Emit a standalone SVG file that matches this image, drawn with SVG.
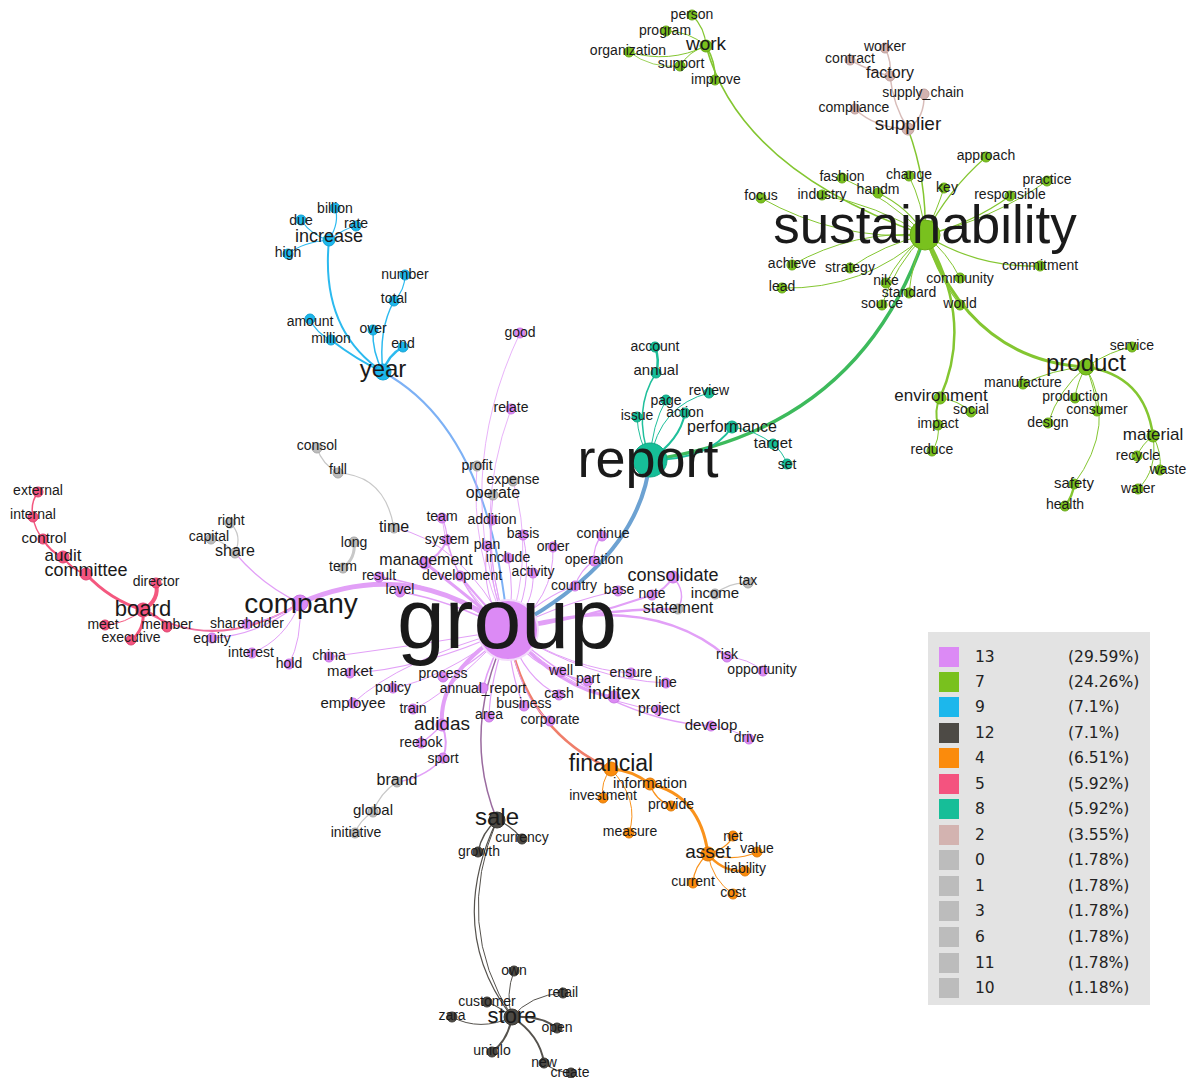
<svg xmlns="http://www.w3.org/2000/svg" width="1188" height="1078" viewBox="0 0 1188 1078">
<style>
text{font-family:"Liberation Sans",Arial,sans-serif;font-size:14px;fill:#1a1a1a;text-anchor:middle;dominant-baseline:central}
#edges path{fill:none;stroke-linecap:round}
.e13{stroke:#e2a0f7}
.e7{stroke:#84c631}
.e9{stroke:#2cbaef}
.e12{stroke:#55524d}
.e4{stroke:#f9921c}
.e5{stroke:#f4587f}
.e8{stroke:#1fbf9b}
.e2{stroke:#d8bcb9}
.eg{stroke:#c8c8c8}
.c13 circle{fill:#dc8af5;stroke:#c978e4}
.c7 circle{fill:#79c11e;stroke:#69aa16}
.c9 circle{fill:#1cb7ec;stroke:#15a2d3}
.c12 circle{fill:#4d4a45;stroke:#3b3934}
.c4 circle{fill:#fb8b0c;stroke:#e07b08}
.c5 circle{fill:#f4537f;stroke:#de426d}
.c8 circle{fill:#16be98;stroke:#10a884}
.c2 circle{fill:#d3b3b0;stroke:#c09f9c}
.cg circle{fill:#bcbcbc;stroke:#a8a8a8}
.lg text{font-family:"DejaVu Sans",Verdana,sans-serif;font-size:15.5px;text-anchor:start;fill:#222}
</style>

<!-- connectors -->
<g id="edges">
<!-- cross-cluster links -->
<path d="M925,235 Q860,430 650,460" stroke="#3dba5c" stroke-width="3.5"/>
<path d="M508,630 Q640,560 650,460" stroke="#6da2d2" stroke-width="4"/>
<path d="M508,630 Q490,430 383,372" stroke="#7db1f5" stroke-width="2"/>
<path d="M508,630 Q525,730 611,769" stroke="#ef7e6a" stroke-width="2.5"/>
<path d="M508,630 Q460,730 497,820" stroke="#9a6b9f" stroke-width="1.5"/>
<path d="M143,610 Q215,655 300,603" stroke="#ee6fa0" stroke-width="2"/>

<!-- green cluster -->
<g class="e7">
<path d="M706,46 Q705,28 692,15" stroke-width="1.2"/>
<path d="M706,46 Q689,31 666,31" stroke-width="1"/>
<path d="M706,46 Q669,64 629,52" stroke-width="1"/>
<path d="M629,52 Q652,69 680,66" stroke-width="0.8"/>
<path d="M706,46 Q689,51 680,66" stroke-width="1"/>
<path d="M706,46 Q716,62 715,80" stroke-width="1.5"/>
<path d="M706,46 Q740,170 925,235" stroke-width="1.6"/>
<path d="M908,129 Q927,180 925,235" stroke-width="1.5"/>
<path d="M925,235 Q948,190 986,157" stroke-width="1.2"/>
<path d="M925,235 Q923,204 909,176" stroke-width="1"/>
<path d="M925,235 Q937,210 944,188" stroke-width="1"/>
<path d="M925,235 Q991,220 1047,181" stroke-width="1"/>
<path d="M925,235 Q971,224 1010,196" stroke-width="1.2"/>
<path d="M925,235 Q889,198 842,178" stroke-width="1"/>
<path d="M925,235 Q908,207 878,193" stroke-width="1.2"/>
<path d="M925,235 Q877,205 822,195" stroke-width="1"/>
<path d="M925,235 Q837,241 761,198" stroke-width="1"/>
<path d="M925,235 Q854,230 792,265" stroke-width="1"/>
<path d="M925,235 Q884,244 850,268" stroke-width="1"/>
<path d="M925,235 Q864,290 782,288" stroke-width="1"/>
<path d="M925,235 Q900,255 886,283" stroke-width="1"/>
<path d="M925,235 Q912,262 909,293" stroke-width="1"/>
<path d="M925,235 Q895,265 882,305" stroke-width="1"/>
<path d="M925,235 Q947,252 960,278" stroke-width="1"/>
<path d="M925,235 Q937,275 960,305" stroke-width="1.2"/>
<path d="M925,235 Q978,268 1040,266" stroke-width="1.2"/>
<path d="M925,235 Q970,360 1086,367" stroke-width="3"/>
<path d="M925,235 Q975,320 940,398" stroke-width="2.5"/>
<path d="M1086,367 Q1112,350 1132,347" stroke-width="1"/>
<path d="M1086,367 Q1053,369 1023,384" stroke-width="1"/>
<path d="M1086,367 Q1077,382 1075,398" stroke-width="1"/>
<path d="M1086,367 Q1095,388 1097,411" stroke-width="1"/>
<path d="M1086,367 Q1059,389 1048,423" stroke-width="1"/>
<path d="M1086,367 Q1118,425 1074,484" stroke-width="1"/>
<path d="M1086,367 Q1145,375 1153,436" stroke-width="2.5"/>
<path d="M1153,436 Q1142,444 1137,456" stroke-width="1"/>
<path d="M1153,436 Q1162,452 1160,470" stroke-width="1"/>
<path d="M1153,436 Q1158,470 1138,489" stroke-width="1"/>
<path d="M1074,484 Q1073,496 1065,506" stroke-width="2.5"/>
<path d="M940,398 Q958,400 971,412" stroke-width="1.2"/>
<path d="M940,398 Q934,410 938,425" stroke-width="2"/>
<path d="M938,425 Q940,440 932,451" stroke-width="1"/>
</g>

<!-- supplier cluster -->
<g class="e2" stroke-width="1.5">
<path d="M908,129 Q893,105 890,76"/>
<path d="M890,76 Q892,62 885,48"/>
<path d="M890,76 Q872,72 850,60"/>
<path d="M908,129 Q925,118 924,94"/>
<path d="M908,129 Q875,128 855,109"/>
</g>

<!-- year cluster -->
<g class="e9">
<path d="M383,372 Q320,330 329,240" stroke-width="2"/>
<path d="M329,240 Q340,222 335,208" stroke-width="1.2"/>
<path d="M329,240 Q312,236 301,220" stroke-width="1.2"/>
<path d="M329,240 Q345,228 356,226" stroke-width="1.2"/>
<path d="M329,240 Q303,242 288,254" stroke-width="1.2"/>
<path d="M383,372 Q357,360 331,340" stroke-width="2"/>
<path d="M331,340 Q316,333 310,319" stroke-width="1.2"/>
<path d="M383,372 Q372,352 373,330" stroke-width="1.5"/>
<path d="M383,372 Q378,330 394,301" stroke-width="1.5"/>
<path d="M394,301 Q405,290 405,275" stroke-width="1.2"/>
<path d="M383,372 Q388,355 403,347" stroke-width="2.5"/>
</g>

<!-- report cluster -->
<g class="e8">
<path d="M650,460 Q632,410 656,373" stroke-width="1.5"/>
<path d="M656,373 Q660,360 655,347" stroke-width="2.5"/>
<path d="M650,460 Q638,440 637,417" stroke-width="1"/>
<path d="M650,460 Q652,425 666,400" stroke-width="1"/>
<path d="M650,460 Q680,440 685,413" stroke-width="2"/>
<path d="M650,460 Q660,405 709,393" stroke-width="1"/>
<path d="M650,460 Q710,460 732,427" stroke-width="2"/>
<path d="M732,427 Q755,430 773,444" stroke-width="1"/>
<path d="M773,444 Q783,452 787,464" stroke-width="1"/>
</g>

<!-- board cluster -->
<g class="e5">
<path d="M143,610 Q160,600 156,583" stroke-width="4"/>
<path d="M143,610 Q110,600 86,574" stroke-width="3"/>
<path d="M86,574 Q72,570 63,557" stroke-width="2"/>
<path d="M63,557 Q50,552 43,539" stroke-width="2"/>
<path d="M43,539 Q35,530 33,517" stroke-width="1.5"/>
<path d="M33,517 Q30,503 38,492" stroke-width="1.5"/>
<path d="M143,610 Q125,624 105,625" stroke-width="1"/>
<path d="M143,610 Q158,614 167,627" stroke-width="1.5"/>
<path d="M143,610 Q145,630 131,640" stroke-width="3"/>
</g>

<!-- grey links -->
<g class="eg" stroke-width="1.2">
<path d="M235,553 Q243,535 230,523"/>
<path d="M235,553 Q222,540 211,539"/>
<path d="M354,542 Q356,558 343,568" stroke-width="3"/>
<path d="M317,448 Q322,464 338,473"/>
<path d="M338,473 Q385,475 394,528"/>
<path d="M715,594 Q730,582 748,583"/>
<path d="M397,782 Q380,793 373,812"/>
<path d="M373,812 Q360,820 355,833"/>
</g>

<!-- group cluster -->
<g class="e13">
<path d="M508,630 Q410,555 300,603" stroke-width="5"/>
<path d="M300,603 Q275,620 247,624" stroke-width="1.5"/>
<path d="M300,603 Q260,635 212,638" stroke-width="1.2"/>
<path d="M300,603 Q285,640 252,653" stroke-width="1"/>
<path d="M300,603 Q302,640 289,664" stroke-width="1"/>
<path d="M300,603 Q262,585 235,553" stroke-width="1.2"/>
<path d="M394,528 Q460,540 508,630" stroke-width="1"/>
<path d="M443,758 Q425,778 397,782" stroke-width="1.5"/>
<path d="M442,725 Q449,742 443,758" stroke-width="2"/>
<path d="M442,725 Q430,737 421,743" stroke-width="1.2"/>
<path d="M508,630 Q438,672 442,725" stroke-width="4"/>
<path d="M508,630 Q450,480 520,333" stroke-width="0.8"/>
<path d="M508,630 Q470,520 511,409" stroke-width="0.8"/>
<path d="M508,630 Q470,550 477,466" stroke-width="0.8"/>
<path d="M508,630 Q485,565 493,495" stroke-width="1"/>
<path d="M508,630 Q535,555 513,481" stroke-width="0.8"/>
<path d="M508,630 Q485,580 492,520" stroke-width="1"/>
<path d="M508,630 Q450,585 442,518" stroke-width="0.8"/>
<path d="M442,518 Q447,528 447,540" stroke-width="1.2"/>
<path d="M508,630 Q462,600 447,540" stroke-width="1.2"/>
<path d="M447,540 Q440,556 425,563" stroke-width="2"/>
<path d="M508,630 Q480,600 487,546" stroke-width="1"/>
<path d="M508,630 Q535,590 523,535" stroke-width="1"/>
<path d="M508,630 Q515,590 508,558" stroke-width="1"/>
<path d="M508,630 Q535,605 533,573" stroke-width="1"/>
<path d="M508,630 Q555,600 553,547" stroke-width="1"/>
<path d="M508,630 Q460,590 425,563" stroke-width="3"/>
<path d="M508,630 Q480,600 460,576" stroke-width="2"/>
<path d="M508,630 Q440,585 379,577" stroke-width="1.5"/>
<path d="M508,630 Q450,600 400,592" stroke-width="1.5"/>
<path d="M508,630 Q545,595 575,586" stroke-width="1.2"/>
<path d="M575,586 Q580,570 594,561" stroke-width="1.2"/>
<path d="M594,561 Q593,545 602,536" stroke-width="1.2"/>
<path d="M508,630 Q570,600 618,591" stroke-width="1.2"/>
<path d="M508,630 Q580,620 652,595" stroke-width="2"/>
<path d="M508,630 Q600,608 678,609" stroke-width="2.5"/>
<path d="M673,577 Q687,592 678,609" stroke-width="1.5"/>
<path d="M673,577 Q665,590 652,595" stroke-width="2"/>
<path d="M508,630 Q650,590 727,657" stroke-width="2.5"/>
<path d="M727,657 Q748,658 763,671" stroke-width="1"/>
<path d="M508,630 Q530,665 561,672" stroke-width="1.2"/>
<path d="M508,630 Q545,675 588,681" stroke-width="1.2"/>
<path d="M508,630 Q575,670 631,673" stroke-width="1"/>
<path d="M508,630 Q590,680 666,683" stroke-width="1"/>
<path d="M508,630 Q560,690 614,697" stroke-width="3"/>
<path d="M508,630 Q575,700 658,710" stroke-width="1"/>
<path d="M508,630 Q610,720 711,726" stroke-width="1.5"/>
<path d="M711,726 Q732,728 749,739" stroke-width="1"/>
<path d="M508,630 Q525,680 559,695" stroke-width="1.2"/>
<path d="M508,630 Q510,675 524,706" stroke-width="1.2"/>
<path d="M508,630 Q520,700 550,721" stroke-width="1"/>
<path d="M508,630 Q490,680 489,717" stroke-width="1.2"/>
<path d="M508,630 Q490,660 483,688" stroke-width="1.5"/>
<path d="M508,630 Q470,668 443,677" stroke-width="1.2"/>
<path d="M508,630 Q440,680 393,688" stroke-width="1"/>
<path d="M508,630 Q420,645 329,657" stroke-width="1"/>
<path d="M508,630 Q420,670 350,673" stroke-width="1.2"/>
<path d="M508,630 Q400,660 353,703" stroke-width="1"/>
<path d="M508,630 Q440,700 413,709" stroke-width="1"/>
</g>

<!-- sale cluster -->
<g class="e12">
<path d="M497,820 Q512,826 522,839" stroke-width="1.2"/>
<path d="M497,820 Q482,832 478,852" stroke-width="1.5"/>
<path d="M497,820 Q445,930 512,1017" stroke-width="1.2"/>
<path d="M497,820 Q453,925 512,1017" stroke-width="1"/>
<path d="M512,1017 Q505,995 514,971" stroke-width="1"/>
<path d="M512,1017 Q530,995 563,993" stroke-width="1"/>
<path d="M512,1017 Q498,1006 487,1002" stroke-width="1.2"/>
<path d="M512,1017 Q480,1032 452,1017" stroke-width="1"/>
<path d="M512,1017 Q540,1015 557,1028" stroke-width="2"/>
<path d="M512,1017 Q508,1040 492,1052" stroke-width="2"/>
<path d="M512,1017 Q540,1035 544,1063" stroke-width="2"/>
<path d="M544,1063 Q555,1072 571,1073" stroke-width="1"/>
</g>

<!-- financial cluster -->
<g class="e4">
<path d="M611,769 Q632,770 650,784" stroke-width="3"/>
<path d="M650,784 Q700,795 708,854" stroke-width="3"/>
<path d="M611,769 Q600,782 603,798" stroke-width="1"/>
<path d="M611,769 Q640,800 629,833" stroke-width="1"/>
<path d="M650,784 Q655,800 671,806" stroke-width="1.2"/>
<path d="M708,854 Q728,848 733,836" stroke-width="1.2"/>
<path d="M708,854 Q735,862 757,852" stroke-width="1.2"/>
<path d="M708,854 Q722,872 745,871" stroke-width="2.5"/>
<path d="M708,854 Q694,866 693,883" stroke-width="1.2"/>
<path d="M708,854 Q712,880 733,894" stroke-width="1"/>
</g>
</g>

<!-- hubs first so small labels stay visible -->
<g id="n-group" class="c13"><circle cx="508" cy="630" r="30" style="stroke:#f3dcfb;stroke-width:2"/><text x="507" y="618" style="font-size:86px">group</text></g>
<g id="n-report" class="c8"><circle cx="650" cy="460" r="17"/><text x="648" y="458" style="font-size:54px">report</text></g>
<g id="n-sustainability" class="c7"><circle cx="925" cy="235" r="15"/><text x="925" y="224" style="font-size:53px">sustainability</text></g>

<!-- green -->
<g id="n-person" class="c7"><circle cx="692" cy="15" r="5"/><text x="692" y="14">person</text></g>
<g id="n-program" class="c7"><circle cx="666" cy="31" r="5"/><text x="665" y="30">program</text></g>
<g id="n-work" class="c7"><circle cx="706" cy="46" r="6"/><text x="706" y="43" style="font-size:19px">work</text></g>
<g id="n-organization" class="c7"><circle cx="629" cy="52" r="5"/><text x="628" y="50">organization</text></g>
<g id="n-support" class="c7"><circle cx="680" cy="66" r="5"/><text x="681" y="63">support</text></g>
<g id="n-improve" class="c7"><circle cx="715" cy="80" r="5"/><text x="716" y="79">improve</text></g>
<g id="n-approach" class="c7"><circle cx="986" cy="157" r="5"/><text x="986" y="155">approach</text></g>
<g id="n-fashion" class="c7"><circle cx="842" cy="178" r="5"/><text x="842" y="176">fashion</text></g>
<g id="n-change" class="c7"><circle cx="909" cy="176" r="5"/><text x="909" y="174">change</text></g>
<g id="n-practice" class="c7"><circle cx="1047" cy="181" r="5"/><text x="1047" y="179">practice</text></g>
<g id="n-focus" class="c7"><circle cx="761" cy="198" r="5"/><text x="761" y="195">focus</text></g>
<g id="n-industry" class="c7"><circle cx="822" cy="195" r="5"/><text x="822" y="194">industry</text></g>
<g id="n-handm" class="c7"><circle cx="878" cy="193" r="5"/><text x="878" y="189">handm</text></g>
<g id="n-key" class="c7"><circle cx="944" cy="188" r="5"/><text x="947" y="187">key</text></g>
<g id="n-responsible" class="c7"><circle cx="1010" cy="196" r="5"/><text x="1010" y="194">responsible</text></g>
<g id="n-achieve" class="c7"><circle cx="792" cy="265" r="5"/><text x="792" y="263">achieve</text></g>
<g id="n-strategy" class="c7"><circle cx="850" cy="268" r="5"/><text x="850" y="267">strategy</text></g>
<g id="n-commitment" class="c7"><circle cx="1040" cy="266" r="5"/><text x="1040" y="265">commitment</text></g>
<g id="n-lead" class="c7"><circle cx="782" cy="288" r="5"/><text x="782" y="286">lead</text></g>
<g id="n-nike" class="c7"><circle cx="886" cy="283" r="5"/><text x="886" y="280">nike</text></g>
<g id="n-community" class="c7"><circle cx="960" cy="278" r="5"/><text x="960" y="278">community</text></g>
<g id="n-standard" class="c7"><circle cx="909" cy="293" r="5"/><text x="909" y="292">standard</text></g>
<g id="n-source" class="c7"><circle cx="882" cy="305" r="5"/><text x="882" y="303">source</text></g>
<g id="n-world" class="c7"><circle cx="960" cy="305" r="5"/><text x="960" y="303">world</text></g>
<g id="n-service" class="c7"><circle cx="1132" cy="347" r="5"/><text x="1132" y="345">service</text></g>
<g id="n-product" class="c7"><circle cx="1086" cy="367" r="8"/><text x="1086" y="362" style="font-size:24px">product</text></g>
<g id="n-manufacture" class="c7"><circle cx="1023" cy="384" r="5"/><text x="1023" y="382">manufacture</text></g>
<g id="n-environment" class="c7"><circle cx="940" cy="398" r="6"/><text x="941" y="395" style="font-size:17px">environment</text></g>
<g id="n-production" class="c7"><circle cx="1075" cy="398" r="5"/><text x="1075" y="396">production</text></g>
<g id="n-social" class="c7"><circle cx="971" cy="412" r="5"/><text x="971" y="409">social</text></g>
<g id="n-consumer" class="c7"><circle cx="1097" cy="411" r="5"/><text x="1097" y="409">consumer</text></g>
<g id="n-impact" class="c7"><circle cx="938" cy="425" r="5"/><text x="938" y="423">impact</text></g>
<g id="n-design" class="c7"><circle cx="1048" cy="423" r="5"/><text x="1048" y="422">design</text></g>
<g id="n-material" class="c7"><circle cx="1153" cy="436" r="6"/><text x="1153" y="434" style="font-size:17px">material</text></g>
<g id="n-reduce" class="c7"><circle cx="932" cy="451" r="5"/><text x="932" y="449">reduce</text></g>
<g id="n-recycle" class="c7"><circle cx="1137" cy="456" r="5"/><text x="1138" y="455">recycle</text></g>
<g id="n-waste" class="c7"><circle cx="1160" cy="470" r="5"/><text x="1168" y="469">waste</text></g>
<g id="n-safety" class="c7"><circle cx="1074" cy="484" r="5"/><text x="1074" y="482" style="font-size:15px">safety</text></g>
<g id="n-water" class="c7"><circle cx="1138" cy="489" r="5"/><text x="1138" y="488">water</text></g>
<g id="n-health" class="c7"><circle cx="1065" cy="506" r="5"/><text x="1065" y="504">health</text></g>

<!-- supplier -->
<g id="n-worker" class="c2"><circle cx="885" cy="48" r="5"/><text x="885" y="46">worker</text></g>
<g id="n-contract" class="c2"><circle cx="850" cy="60" r="5"/><text x="850" y="58">contract</text></g>
<g id="n-factory" class="c2"><circle cx="890" cy="76" r="5"/><text x="890" y="72" style="font-size:16px">factory</text></g>
<g id="n-supply_chain" class="c2"><circle cx="924" cy="94" r="5"/><text x="923" y="92">supply_chain</text></g>
<g id="n-compliance" class="c2"><circle cx="855" cy="109" r="5"/><text x="854" y="107">compliance</text></g>
<g id="n-supplier" class="c2"><circle cx="908" cy="129" r="6"/><text x="908" y="123" style="font-size:19px">supplier</text></g>

<!-- year -->
<g id="n-billion" class="c9"><circle cx="335" cy="208" r="5"/><text x="335" y="208">billion</text></g>
<g id="n-due" class="c9"><circle cx="301" cy="220" r="5"/><text x="301" y="220">due</text></g>
<g id="n-rate" class="c9"><circle cx="356" cy="226" r="5"/><text x="356" y="223">rate</text></g>
<g id="n-increase" class="c9"><circle cx="329" cy="240" r="6"/><text x="329" y="236" style="font-size:18px">increase</text></g>
<g id="n-high" class="c9"><circle cx="288" cy="254" r="5"/><text x="288" y="252">high</text></g>
<g id="n-number" class="c9"><circle cx="405" cy="275" r="5"/><text x="405" y="274">number</text></g>
<g id="n-total" class="c9"><circle cx="394" cy="301" r="5"/><text x="394" y="298">total</text></g>
<g id="n-amount" class="c9"><circle cx="310" cy="319" r="5"/><text x="310" y="321">amount</text></g>
<g id="n-over" class="c9"><circle cx="373" cy="330" r="5"/><text x="373" y="328">over</text></g>
<g id="n-million" class="c9"><circle cx="331" cy="340" r="5"/><text x="331" y="338">million</text></g>
<g id="n-end" class="c9"><circle cx="403" cy="347" r="5"/><text x="403" y="343">end</text></g>
<g id="n-year" class="c9"><circle cx="383" cy="372" r="8"/><text x="383" y="368" style="font-size:24px">year</text></g>

<!-- report -->
<g id="n-account" class="c8"><circle cx="655" cy="347" r="5"/><text x="655" y="346">account</text></g>
<g id="n-annual" class="c8"><circle cx="656" cy="373" r="5"/><text x="656" y="369" style="font-size:15px">annual</text></g>
<g id="n-review" class="c8"><circle cx="709" cy="393" r="5"/><text x="709" y="390">review</text></g>
<g id="n-page" class="c8"><circle cx="666" cy="400" r="5"/><text x="666" y="400">page</text></g>
<g id="n-issue" class="c8"><circle cx="637" cy="417" r="5"/><text x="637" y="415">issue</text></g>
<g id="n-action" class="c8"><circle cx="685" cy="413" r="5"/><text x="685" y="412">action</text></g>
<g id="n-performance" class="c8"><circle cx="732" cy="427" r="6"/><text x="732" y="426" style="font-size:16px">performance</text></g>
<g id="n-target" class="c8"><circle cx="773" cy="444" r="5"/><text x="773" y="442" style="font-size:15px">target</text></g>
<g id="n-set" class="c8"><circle cx="787" cy="464" r="5"/><text x="787" y="464">set</text></g>

<!-- board -->
<g id="n-external" class="c5"><circle cx="38" cy="492" r="5"/><text x="38" y="490">external</text></g>
<g id="n-internal" class="c5"><circle cx="33" cy="517" r="5"/><text x="33" y="514">internal</text></g>
<g id="n-control" class="c5"><circle cx="43" cy="539" r="5"/><text x="44" y="537" style="font-size:15px">control</text></g>
<g id="n-audit" class="c5"><circle cx="63" cy="557" r="6"/><text x="63" y="555" style="font-size:17px">audit</text></g>
<g id="n-committee" class="c5"><circle cx="86" cy="574" r="6"/><text x="86" y="570" style="font-size:18px">committee</text></g>
<g id="n-director" class="c5"><circle cx="156" cy="583" r="5"/><text x="156" y="581">director</text></g>
<g id="n-board" class="c5"><circle cx="143" cy="610" r="7"/><text x="143" y="608" style="font-size:22px">board</text></g>
<g id="n-meet" class="c5"><circle cx="105" cy="625" r="5"/><text x="103" y="624">meet</text></g>
<g id="n-member" class="c5"><circle cx="167" cy="627" r="5"/><text x="167" y="624">member</text></g>
<g id="n-executive" class="c5"><circle cx="131" cy="640" r="5"/><text x="131" y="637">executive</text></g>

<!-- grey -->
<g id="n-consol" class="cg"><circle cx="317" cy="448" r="5"/><text x="317" y="445">consol</text></g>
<g id="n-full" class="cg"><circle cx="338" cy="473" r="5"/><text x="338" y="469">full</text></g>
<g id="n-profit" class="cg"><circle cx="477" cy="466" r="5"/><text x="477" y="465">profit</text></g>
<g id="n-expense" class="cg"><circle cx="513" cy="481" r="5"/><text x="513" y="479">expense</text></g>
<g id="n-operate" class="cg"><circle cx="493" cy="495" r="5"/><text x="493" y="492" style="font-size:16px">operate</text></g>
<g id="n-time" class="cg"><circle cx="394" cy="528" r="5"/><text x="394" y="526" style="font-size:16px">time</text></g>
<g id="n-long" class="cg"><circle cx="354" cy="542" r="5"/><text x="354" y="542">long</text></g>
<g id="n-term" class="cg"><circle cx="343" cy="568" r="5"/><text x="343" y="566">term</text></g>
<g id="n-right" class="cg"><circle cx="230" cy="523" r="5"/><text x="231" y="520">right</text></g>
<g id="n-capital" class="cg"><circle cx="211" cy="539" r="5"/><text x="209" y="536">capital</text></g>
<g id="n-share" class="cg"><circle cx="235" cy="553" r="5"/><text x="235" y="550" style="font-size:16px">share</text></g>
<g id="n-statement" class="cg"><circle cx="678" cy="609" r="5"/><text x="678" y="607" style="font-size:16px">statement</text></g>
<g id="n-income" class="cg"><circle cx="715" cy="594" r="5"/><text x="715" y="592" style="font-size:15px">income</text></g>
<g id="n-tax" class="cg"><circle cx="748" cy="583" r="5"/><text x="748" y="580">tax</text></g>
<g id="n-brand" class="cg"><circle cx="397" cy="782" r="5"/><text x="397" y="779" style="font-size:16px">brand</text></g>
<g id="n-global" class="cg"><circle cx="373" cy="812" r="5"/><text x="373" y="809" style="font-size:15px">global</text></g>
<g id="n-initiative" class="cg"><circle cx="355" cy="833" r="5"/><text x="356" y="832">initiative</text></g>

<!-- purple -->
<g id="n-company" class="c13"><circle cx="300" cy="603" r="8"/><text x="301" y="603" style="font-size:28px">company</text></g>
<g id="n-shareholder" class="c13"><circle cx="247" cy="624" r="5"/><text x="247" y="623">shareholder</text></g>
<g id="n-equity" class="c13"><circle cx="212" cy="638" r="5"/><text x="212" y="638">equity</text></g>
<g id="n-interest" class="c13"><circle cx="252" cy="653" r="5"/><text x="251" y="652">interest</text></g>
<g id="n-hold" class="c13"><circle cx="289" cy="664" r="5"/><text x="289" y="663">hold</text></g>
<g id="n-good" class="c13"><circle cx="520" cy="333" r="5"/><text x="520" y="332">good</text></g>
<g id="n-relate" class="c13"><circle cx="511" cy="409" r="5"/><text x="511" y="407">relate</text></g>
<g id="n-team" class="c13"><circle cx="442" cy="518" r="5"/><text x="442" y="516">team</text></g>
<g id="n-addition" class="c13"><circle cx="492" cy="520" r="5"/><text x="492" y="519">addition</text></g>
<g id="n-basis" class="c13"><circle cx="523" cy="535" r="5"/><text x="523" y="533">basis</text></g>
<g id="n-system" class="c13"><circle cx="447" cy="540" r="5"/><text x="447" y="539">system</text></g>
<g id="n-plan" class="c13"><circle cx="487" cy="546" r="5"/><text x="487" y="544">plan</text></g>
<g id="n-order" class="c13"><circle cx="553" cy="547" r="5"/><text x="553" y="546">order</text></g>
<g id="n-include" class="c13"><circle cx="508" cy="558" r="5"/><text x="508" y="557">include</text></g>
<g id="n-management" class="c13"><circle cx="425" cy="563" r="6"/><text x="426" y="559" style="font-size:16px">management</text></g>
<g id="n-result" class="c13"><circle cx="379" cy="577" r="5"/><text x="379" y="575">result</text></g>
<g id="n-activity" class="c13"><circle cx="533" cy="573" r="5"/><text x="533" y="571">activity</text></g>
<g id="n-development" class="c13"><circle cx="460" cy="576" r="5"/><text x="462" y="575">development</text></g>
<g id="n-level" class="c13"><circle cx="400" cy="592" r="5"/><text x="400" y="589">level</text></g>
<g id="n-country" class="c13"><circle cx="575" cy="586" r="5"/><text x="574" y="585">country</text></g>
<g id="n-continue" class="c13"><circle cx="602" cy="536" r="5"/><text x="603" y="533">continue</text></g>
<g id="n-operation" class="c13"><circle cx="594" cy="561" r="5"/><text x="594" y="559">operation</text></g>
<g id="n-base" class="c13"><circle cx="618" cy="591" r="5"/><text x="619" y="589">base</text></g>
<g id="n-consolidate" class="c13"><circle cx="673" cy="577" r="6"/><text x="673" y="575" style="font-size:18px">consolidate</text></g>
<g id="n-note" class="c13"><circle cx="652" cy="595" r="5"/><text x="652" y="593">note</text></g>
<g id="n-china" class="c13"><circle cx="329" cy="657" r="5"/><text x="329" y="655">china</text></g>
<g id="n-market" class="c13"><circle cx="350" cy="673" r="5"/><text x="350" y="670" style="font-size:15px">market</text></g>
<g id="n-risk" class="c13"><circle cx="727" cy="657" r="5"/><text x="727" y="654">risk</text></g>
<g id="n-opportunity" class="c13"><circle cx="763" cy="671" r="5"/><text x="762" y="669">opportunity</text></g>
<g id="n-process" class="c13"><circle cx="443" cy="677" r="5"/><text x="443" y="673">process</text></g>
<g id="n-well" class="c13"><circle cx="561" cy="672" r="5"/><text x="561" y="670">well</text></g>
<g id="n-part" class="c13"><circle cx="588" cy="681" r="5"/><text x="588" y="678">part</text></g>
<g id="n-ensure" class="c13"><circle cx="631" cy="673" r="5"/><text x="631" y="672">ensure</text></g>
<g id="n-line" class="c13"><circle cx="666" cy="683" r="5"/><text x="666" y="682">line</text></g>
<g id="n-policy" class="c13"><circle cx="393" cy="688" r="5"/><text x="393" y="687">policy</text></g>
<g id="n-annual_report" class="c13"><circle cx="483" cy="688" r="5"/><text x="483" y="688">annual_report</text></g>
<g id="n-cash" class="c13"><circle cx="559" cy="695" r="5"/><text x="559" y="693">cash</text></g>
<g id="n-inditex" class="c13"><circle cx="614" cy="697" r="6"/><text x="614" y="693" style="font-size:18px">inditex</text></g>
<g id="n-employee" class="c13"><circle cx="353" cy="703" r="5"/><text x="353" y="702" style="font-size:15px">employee</text></g>
<g id="n-business" class="c13"><circle cx="524" cy="706" r="5"/><text x="524" y="703">business</text></g>
<g id="n-train" class="c13"><circle cx="413" cy="709" r="5"/><text x="413" y="708">train</text></g>
<g id="n-project" class="c13"><circle cx="658" cy="710" r="5"/><text x="659" y="708">project</text></g>
<g id="n-area" class="c13"><circle cx="489" cy="717" r="5"/><text x="489" y="714">area</text></g>
<g id="n-corporate" class="c13"><circle cx="550" cy="721" r="5"/><text x="550" y="719">corporate</text></g>
<g id="n-adidas" class="c13"><circle cx="442" cy="725" r="6"/><text x="442" y="723" style="font-size:19px">adidas</text></g>
<g id="n-develop" class="c13"><circle cx="711" cy="726" r="5"/><text x="711" y="724" style="font-size:15px">develop</text></g>
<g id="n-reebok" class="c13"><circle cx="421" cy="743" r="5"/><text x="421" y="742">reebok</text></g>
<g id="n-drive" class="c13"><circle cx="749" cy="739" r="5"/><text x="749" y="737">drive</text></g>
<g id="n-sport" class="c13"><circle cx="443" cy="758" r="5"/><text x="443" y="758">sport</text></g>

<!-- financial -->
<g id="n-financial" class="c4"><circle cx="611" cy="769" r="7"/><text x="611" y="763" style="font-size:23px">financial</text></g>
<g id="n-information" class="c4"><circle cx="650" cy="784" r="6"/><text x="650" y="782" style="font-size:15px">information</text></g>
<g id="n-investment" class="c4"><circle cx="603" cy="798" r="5"/><text x="603" y="795">investment</text></g>
<g id="n-provide" class="c4"><circle cx="671" cy="806" r="5"/><text x="671" y="804">provide</text></g>
<g id="n-measure" class="c4"><circle cx="629" cy="833" r="5"/><text x="630" y="831">measure</text></g>
<g id="n-net" class="c4"><circle cx="733" cy="836" r="5"/><text x="733" y="836">net</text></g>
<g id="n-value" class="c4"><circle cx="757" cy="852" r="5"/><text x="757" y="848">value</text></g>
<g id="n-asset" class="c4"><circle cx="708" cy="854" r="7"/><text x="708" y="851" style="font-size:19px">asset</text></g>
<g id="n-liability" class="c4"><circle cx="745" cy="871" r="5"/><text x="745" y="868">liability</text></g>
<g id="n-current" class="c4"><circle cx="693" cy="883" r="5"/><text x="693" y="881">current</text></g>
<g id="n-cost" class="c4"><circle cx="733" cy="894" r="5"/><text x="733" y="892">cost</text></g>

<!-- sale -->
<g id="n-sale" class="c12"><circle cx="497" cy="820" r="8"/><text x="497" y="816" style="font-size:24px">sale</text></g>
<g id="n-currency" class="c12"><circle cx="522" cy="839" r="5"/><text x="522" y="837">currency</text></g>
<g id="n-growth" class="c12"><circle cx="478" cy="852" r="5"/><text x="479" y="851">growth</text></g>
<g id="n-own" class="c12"><circle cx="514" cy="971" r="5"/><text x="514" y="970">own</text></g>
<g id="n-retail" class="c12"><circle cx="563" cy="993" r="5"/><text x="563" y="992">retail</text></g>
<g id="n-customer" class="c12"><circle cx="487" cy="1002" r="5"/><text x="487" y="1001">customer</text></g>
<g id="n-store" class="c12"><circle cx="512" cy="1017" r="8"/><text x="512" y="1015" style="font-size:22px">store</text></g>
<g id="n-zara" class="c12"><circle cx="452" cy="1017" r="5"/><text x="452" y="1015">zara</text></g>
<g id="n-open" class="c12"><circle cx="557" cy="1028" r="5"/><text x="557" y="1027">open</text></g>
<g id="n-uniqlo" class="c12"><circle cx="492" cy="1052" r="5"/><text x="492" y="1050">uniqlo</text></g>
<g id="n-new" class="c12"><circle cx="544" cy="1063" r="5"/><text x="544" y="1062">new</text></g>
<g id="n-create" class="c12"><circle cx="571" cy="1073" r="5"/><text x="570" y="1072">create</text></g>

<!-- legend -->
<g id="legend" class="lg">
<rect x="928" y="632" width="222" height="373" fill="#e3e3e3"/>
<rect x="939" y="647" width="20" height="20" fill="#dc8af5"/><text x="975" y="657">13</text><text x="1068" y="657">(29.59%)</text>
<rect x="939" y="672" width="20" height="20" fill="#79c11e"/><text x="975" y="682">7</text><text x="1068" y="682">(24.26%)</text>
<rect x="939" y="697" width="20" height="20" fill="#1cb7ec"/><text x="975" y="707">9</text><text x="1068" y="707">(7.1%)</text>
<rect x="939" y="723" width="20" height="20" fill="#4d4a45"/><text x="975" y="733">12</text><text x="1068" y="733">(7.1%)</text>
<rect x="939" y="748" width="20" height="20" fill="#fb8b0c"/><text x="975" y="758">4</text><text x="1068" y="758">(6.51%)</text>
<rect x="939" y="774" width="20" height="20" fill="#f4537f"/><text x="975" y="784">5</text><text x="1068" y="784">(5.92%)</text>
<rect x="939" y="799" width="20" height="20" fill="#16be98"/><text x="975" y="809">8</text><text x="1068" y="809">(5.92%)</text>
<rect x="939" y="825" width="20" height="20" fill="#d3b3b0"/><text x="975" y="835">2</text><text x="1068" y="835">(3.55%)</text>
<rect x="939" y="850" width="20" height="20" fill="#bcbcbc"/><text x="975" y="860">0</text><text x="1068" y="860">(1.78%)</text>
<rect x="939" y="876" width="20" height="20" fill="#bcbcbc"/><text x="975" y="886">1</text><text x="1068" y="886">(1.78%)</text>
<rect x="939" y="901" width="20" height="20" fill="#bcbcbc"/><text x="975" y="911">3</text><text x="1068" y="911">(1.78%)</text>
<rect x="939" y="927" width="20" height="20" fill="#bcbcbc"/><text x="975" y="937">6</text><text x="1068" y="937">(1.78%)</text>
<rect x="939" y="953" width="20" height="20" fill="#bcbcbc"/><text x="975" y="963">11</text><text x="1068" y="963">(1.78%)</text>
<rect x="939" y="978" width="20" height="20" fill="#bcbcbc"/><text x="975" y="988">10</text><text x="1068" y="988">(1.18%)</text>
</g>
</svg>
